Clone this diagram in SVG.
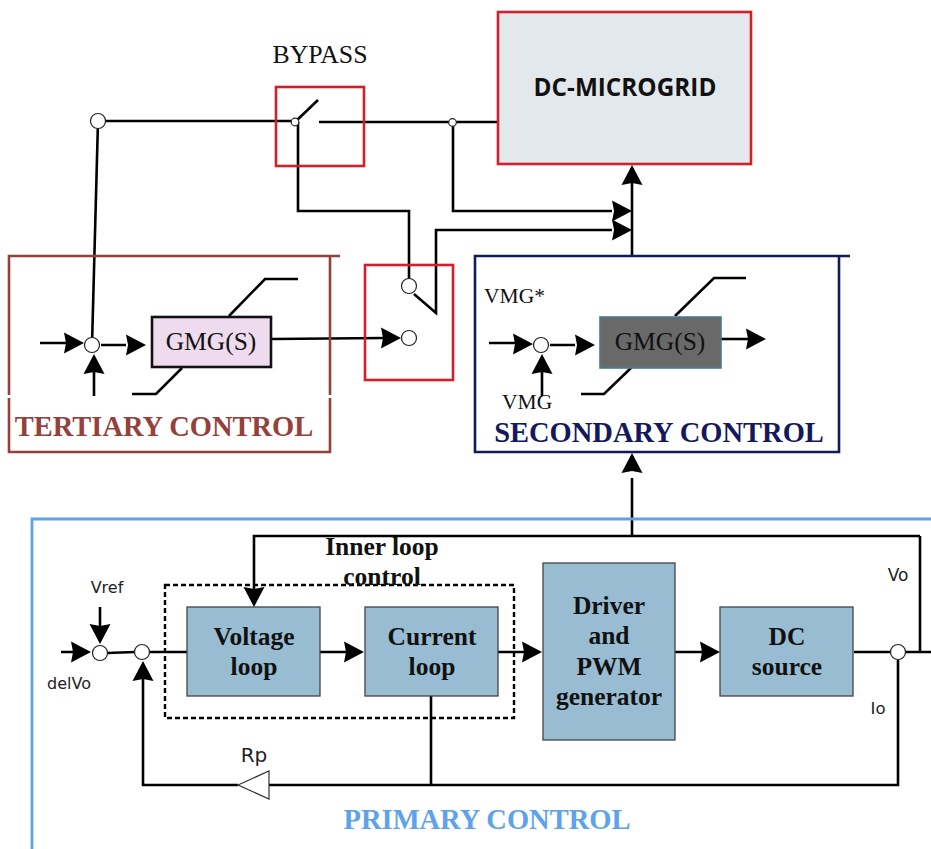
<svg xmlns="http://www.w3.org/2000/svg" width="931" height="849" viewBox="0 0 931 849">
<style>
.w{fill:none;stroke:#000;stroke-width:2.6}
.j{fill:#fff;stroke:#222;stroke-width:1.2}
.b{fill:#98bdd2;stroke:#444;stroke-width:1.3}
.a{fill:#000;stroke:none}
.s{font-family:"Liberation Serif",serif;fill:#111}
.bt{font-family:"Liberation Serif",serif;font-weight:bold;fill:#111;font-size:25.5px;text-anchor:middle}
.t{font-family:"DejaVu Sans",sans-serif;fill:#222}
.h{font-family:"Liberation Serif",serif;font-weight:bold;font-size:28.5px}
</style>
<defs>
<path id="ar" class="a" d="M-20,-10.500 L0,0 L-20,10.500 L-18,0 Z"/>
</defs>
<rect x="0" y="0" width="931" height="849" fill="#fff"/>
<g id="connectors">
<path class="w" d="M98,121 H295 M319,122 H498 M295,122 L318,100"/>
<path class="w" d="M98,121 L92,345"/>
<path class="w" d="M298,122 V211 H409 V279"/>
<path class="w" d="M453,122 V211 H612"/>
<path class="w" d="M632,255 V180"/>
<path class="w" d="M414,294 L436,313 V230 H612"/>
<path class="w" d="M40,343 H70 M101,345 H126 M94,396 V372"/>
<path class="w" d="M272,339 L385,338"/>
<path class="w" d="M229,316 L265,279 H298 M132,394 H156 L182,368"/>
<path class="w" d="M489,343 H518 M550,345 H575 M542,396 V372"/>
<path class="w" d="M721,339 H750"/>
<path class="w" d="M675,316 L714,278 H746 M581,394 H604 L632,367"/>
<path class="w" d="M632,478 V536 M920,536 H254 V590"/>
<path class="w" d="M61,652 H85 M107,653 L135,652 M150,652 H187 M320,652 H350 M498,652 H525 M675,652 H705 M854,652 H931"/>
<path class="w" d="M100,607 V628"/>
<path class="w" d="M143,675 V785 H238 M269,785 H898 V660"/>
<path class="w" d="M431,696 V785"/>
<path class="w" d="M920,536 V652"/>
<use href="#ar" transform="translate(632,165) rotate(-90)"/>
<use href="#ar" transform="translate(632,211)"/>
<use href="#ar" transform="translate(632,230)"/>
<use href="#ar" transform="translate(84,343)"/>
<use href="#ar" transform="translate(146,345)"/>
<use href="#ar" transform="translate(94,354) rotate(-90)"/>
<use href="#ar" transform="translate(401,338)"/>
<use href="#ar" transform="translate(533,344)"/>
<use href="#ar" transform="translate(595,345)"/>
<use href="#ar" transform="translate(542,354) rotate(-90)"/>
<use href="#ar" transform="translate(766,339)"/>
<use href="#ar" transform="translate(632,453) rotate(-90)"/>
<use href="#ar" transform="translate(254,607) rotate(90)"/>
<use href="#ar" transform="translate(91,652)"/>
<use href="#ar" transform="translate(100,644) rotate(90)"/>
<use href="#ar" transform="translate(143,661) rotate(-90)"/>
<use href="#ar" transform="translate(364,652)"/>
<use href="#ar" transform="translate(542,652)"/>
<use href="#ar" transform="translate(720,652)"/>
<path d="M238,785 L269,771 V799 Z" fill="#fff" stroke="#333" stroke-width="1.2"/>
</g>
<g id="microgrid">
<rect x="498" y="12" width="253" height="152" fill="#e3e8ec" stroke="#d2202a" stroke-width="2.6"/>
<text x="625" y="96" text-anchor="middle" font-family="'Open Sans',sans-serif" font-weight="bold" font-size="24.300" fill="#111">DC-MICROGRID</text>
</g>
<g id="bypass">
<rect x="276" y="87" width="88" height="79" fill="none" stroke="#d2202a" stroke-width="2.6"/>
<circle class="j" cx="295" cy="122" r="3.800"/>
<text class="s" x="320" y="63" text-anchor="middle" font-size="25.800">BYPASS</text>
</g>
<circle id="node-top" class="j" cx="98" cy="121" r="7.500"/>
<circle id="node-tap" class="j" cx="452.500" cy="122.500" r="3.800"/>
<g id="selector">
<rect x="365" y="265" width="88" height="115" fill="none" stroke="#d2202a" stroke-width="2.6"/>
<circle class="j" cx="409" cy="286" r="7.500"/>
<circle class="j" cx="409" cy="338" r="7.500"/>
</g>
<g id="tertiary">
<path d="M340,256 H9 V395 M9,398 V452 H330 V398 M330,395 V256" fill="none" stroke="#96403c" stroke-width="2.6"/>
<circle class="j" cx="92" cy="345" r="7.500"/>
<rect x="152" y="317" width="119" height="50" fill="#eedbee" stroke="#111" stroke-width="2.600"/>
<text class="s" x="211" y="350" text-anchor="middle" font-size="25.500">GMG(S)</text>
<text class="h" x="164" y="436" text-anchor="middle" fill="#96403c">TERTIARY CONTROL</text>
</g>
<g id="secondary">
<path d="M850,256 H475 V452 H839 V256" fill="none" stroke="#14195c" stroke-width="2.6"/>
<circle class="j" cx="541" cy="345" r="7.500"/>
<rect x="600" y="317" width="121" height="51" fill="#696969" stroke="#4c7a95" stroke-width="1.6"/>
<text class="s" x="660" y="350" text-anchor="middle" font-size="25.500">GMG(S)</text>
<text class="s" x="484" y="303" font-size="21.500">VMG*</text>
<text class="s" x="502" y="409" font-size="21.500">VMG</text>
<text class="h" x="659" y="442" text-anchor="middle" fill="#14195c">SECONDARY CONTROL</text>
</g>
<g id="primary">
<path d="M931,519 H32 V849" fill="none" stroke="#5ea2ec" stroke-width="2.8"/>
<text class="h" x="487" y="829" text-anchor="middle" fill="#5ea2ec">PRIMARY CONTROL</text>
</g>
<g id="inner-loop">
<rect x="165" y="585" width="349" height="133" fill="none" stroke="#000" stroke-width="2.400" stroke-dasharray="5 3"/>
<text class="bt" x="382" y="555">Inner loop</text>
<text class="bt" x="382" y="585">control</text>
</g>
<g id="voltage-loop">
<rect class="b" x="187" y="607" width="133" height="89"/>
<text class="bt" x="254" y="645">Voltage</text>
<text class="bt" x="254" y="675">loop</text>
</g>
<g id="current-loop">
<rect class="b" x="365" y="607" width="133" height="89"/>
<text class="bt" x="432" y="645">Current</text>
<text class="bt" x="432" y="675">loop</text>
</g>
<g id="driver">
<rect class="b" x="543" y="563" width="132" height="177"/>
<text class="bt" x="609" y="614">Driver</text>
<text class="bt" x="609" y="644">and</text>
<text class="bt" x="609" y="675">PWM</text>
<text class="bt" x="609" y="705">generator</text>
</g>
<g id="dc-source">
<rect class="b" x="720" y="607" width="133" height="89"/>
<text class="bt" x="787" y="645">DC</text>
<text class="bt" x="787" y="675">source</text>
</g>
<g id="primary-nodes">
<circle class="j" cx="100" cy="653" r="7.500"/>
<circle class="j" cx="142" cy="652" r="7.500"/>
<circle class="j" cx="898" cy="652" r="7.500"/>
<text class="t" x="107" y="593" text-anchor="middle" font-size="16">Vref</text>
<text class="t" x="69" y="689" text-anchor="middle" font-size="16">delVo</text>
<text class="t" x="254" y="762" text-anchor="middle" font-size="20">Rp</text>
<text class="t" x="898" y="581" text-anchor="middle" font-size="17">Vo</text>
<text class="t" x="878" y="714" text-anchor="middle" font-size="16.500">Io</text>
</g>
</svg>
